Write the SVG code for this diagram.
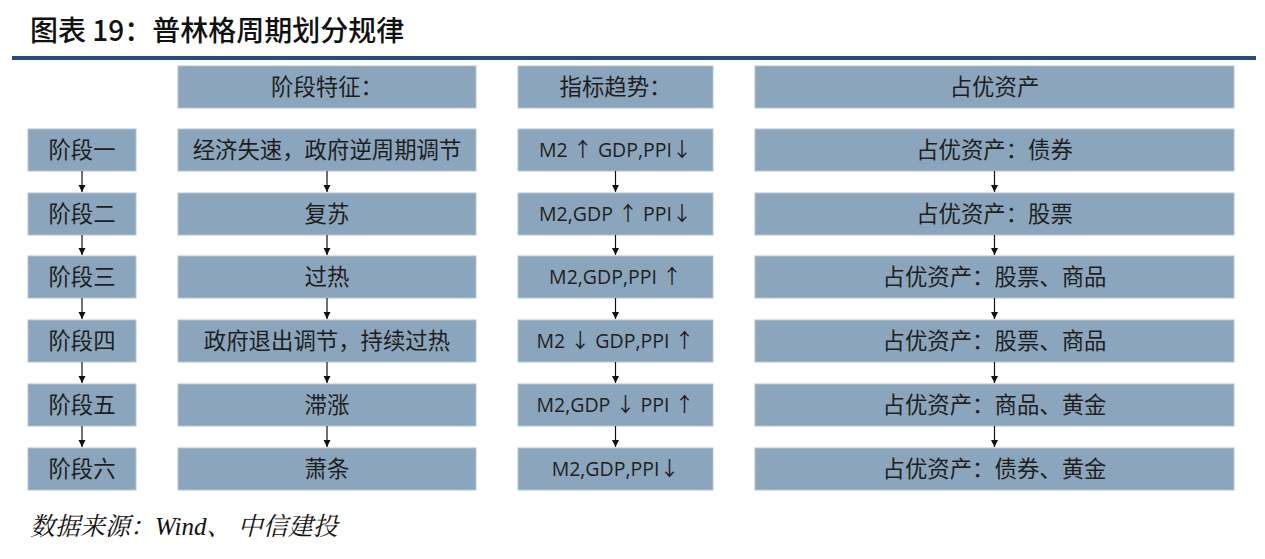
<svg xmlns="http://www.w3.org/2000/svg" width="1265" height="559" viewBox="0 0 1265 559">
<style>
.bg{fill:#ffffff}
.box{fill:#8ba5bd;stroke:#b3c4d4;stroke-width:1}
.t{font-family:"Noto Sans CJK SC","Noto Sans",sans-serif;font-size:22.4px;fill:#1e1e1e;text-anchor:middle}
.m{font-family:"Open Sans","Noto Sans CJK SC",sans-serif;font-size:19.5px;fill:#1e1e1e;text-anchor:middle}
.ar{font-family:"Noto Sans CJK SC",sans-serif;font-size:20px}
.title{font-family:"Noto Sans CJK SC",sans-serif;font-size:28px;font-weight:500;fill:#111111}
.src{font-family:"Liberation Serif","Noto Serif CJK SC","Noto Sans CJK SC",serif;font-size:25px;font-style:italic;fill:#111111}
.conn line{stroke:#111111;stroke-width:1.2}
</style>
<defs>
<marker id="ah" markerWidth="8" markerHeight="8" refX="7" refY="4" orient="auto" markerUnits="userSpaceOnUse">
<path d="M0,0.5 L7,4 L0,7.5 Z" fill="#111111"/>
</marker>
</defs>
<rect class="bg" x="0" y="0" width="1265" height="559"/>
<text class="title" x="30" y="41">图表 19：普林格周期划分规律</text>
<rect x="12" y="56" width="1244" height="4" fill="#264d78"/>

<g id="h2"><rect class="box" x="178" y="66" width="298" height="42"/><text class="t" x="327" y="95">阶段特征：</text></g>
<g id="h3"><rect class="box" x="518" y="66" width="195" height="42"/><text class="t" x="615.5" y="95">指标趋势：</text></g>
<g id="h4"><rect class="box" x="755" y="66" width="479" height="42"/><text class="t" x="994.5" y="95">占优资产</text></g>

<g id="s1"><rect class="box" x="28" y="129" width="108" height="42"/><text class="t" x="82" y="158">阶段一</text></g>
<g id="s2"><rect class="box" x="28" y="193" width="108" height="42"/><text class="t" x="82" y="222">阶段二</text></g>
<g id="s3"><rect class="box" x="28" y="256" width="108" height="42"/><text class="t" x="82" y="285">阶段三</text></g>
<g id="s4"><rect class="box" x="28" y="320" width="108" height="42"/><text class="t" x="82" y="349">阶段四</text></g>
<g id="s5"><rect class="box" x="28" y="384" width="108" height="42"/><text class="t" x="82" y="413">阶段五</text></g>
<g id="s6"><rect class="box" x="28" y="448" width="108" height="42"/><text class="t" x="82" y="477">阶段六</text></g>

<g id="f1"><rect class="box" x="178" y="129" width="298" height="42"/><text class="t" x="327" y="158">经济失速，政府逆周期调节</text></g>
<g id="f2"><rect class="box" x="178" y="193" width="298" height="42"/><text class="t" x="327" y="222">复苏</text></g>
<g id="f3"><rect class="box" x="178" y="256" width="298" height="42"/><text class="t" x="327" y="285">过热</text></g>
<g id="f4"><rect class="box" x="178" y="320" width="298" height="42"/><text class="t" x="327" y="349">政府退出调节，持续过热</text></g>
<g id="f5"><rect class="box" x="178" y="384" width="298" height="42"/><text class="t" x="327" y="413">滞涨</text></g>
<g id="f6"><rect class="box" x="178" y="448" width="298" height="42"/><text class="t" x="327" y="477">萧条</text></g>

<g id="i1"><rect class="box" x="518" y="129" width="195" height="42"/><text class="m" x="615.5" y="157">M2 <tspan class="ar">↑</tspan> GDP,PPI<tspan class="ar">↓</tspan></text></g>
<g id="i2"><rect class="box" x="518" y="193" width="195" height="42"/><text class="m" x="615.5" y="221">M2,GDP <tspan class="ar">↑</tspan> PPI<tspan class="ar">↓</tspan></text></g>
<g id="i3"><rect class="box" x="518" y="256" width="195" height="42"/><text class="m" x="615.5" y="284">M2,GDP,PPI <tspan class="ar">↑</tspan></text></g>
<g id="i4"><rect class="box" x="518" y="320" width="195" height="42"/><text class="m" x="615.5" y="348">M2 <tspan class="ar">↓</tspan> GDP,PPI <tspan class="ar">↑</tspan></text></g>
<g id="i5"><rect class="box" x="518" y="384" width="195" height="42"/><text class="m" x="615.5" y="412">M2,GDP <tspan class="ar">↓</tspan> PPI <tspan class="ar">↑</tspan></text></g>
<g id="i6"><rect class="box" x="518" y="448" width="195" height="42"/><text class="m" x="615.5" y="476">M2,GDP,PPI<tspan class="ar">↓</tspan></text></g>

<g id="a1"><rect class="box" x="755" y="129" width="479" height="42"/><text class="t" x="994.5" y="158">占优资产：债券</text></g>
<g id="a2"><rect class="box" x="755" y="193" width="479" height="42"/><text class="t" x="994.5" y="222">占优资产：股票</text></g>
<g id="a3"><rect class="box" x="755" y="256" width="479" height="42"/><text class="t" x="994.5" y="285">占优资产：股票、商品</text></g>
<g id="a4"><rect class="box" x="755" y="320" width="479" height="42"/><text class="t" x="994.5" y="349">占优资产：股票、商品</text></g>
<g id="a5"><rect class="box" x="755" y="384" width="479" height="42"/><text class="t" x="994.5" y="413">占优资产：商品、黄金</text></g>
<g id="a6"><rect class="box" x="755" y="448" width="479" height="42"/><text class="t" x="994.5" y="477">占优资产：债券、黄金</text></g>

<g id="connectors" class="conn">
<line x1="82" y1="171" x2="82" y2="192" marker-end="url(#ah)"/>
<line x1="82" y1="235" x2="82" y2="255" marker-end="url(#ah)"/>
<line x1="82" y1="298" x2="82" y2="319" marker-end="url(#ah)"/>
<line x1="82" y1="362" x2="82" y2="383" marker-end="url(#ah)"/>
<line x1="82" y1="426" x2="82" y2="447" marker-end="url(#ah)"/>
<line x1="327" y1="171" x2="327" y2="192" marker-end="url(#ah)"/>
<line x1="327" y1="235" x2="327" y2="255" marker-end="url(#ah)"/>
<line x1="327" y1="298" x2="327" y2="319" marker-end="url(#ah)"/>
<line x1="327" y1="362" x2="327" y2="383" marker-end="url(#ah)"/>
<line x1="327" y1="426" x2="327" y2="447" marker-end="url(#ah)"/>
<line x1="615.5" y1="171" x2="615.5" y2="192" marker-end="url(#ah)"/>
<line x1="615.5" y1="235" x2="615.5" y2="255" marker-end="url(#ah)"/>
<line x1="615.5" y1="298" x2="615.5" y2="319" marker-end="url(#ah)"/>
<line x1="615.5" y1="362" x2="615.5" y2="383" marker-end="url(#ah)"/>
<line x1="615.5" y1="426" x2="615.5" y2="447" marker-end="url(#ah)"/>
<line x1="994.5" y1="171" x2="994.5" y2="192" marker-end="url(#ah)"/>
<line x1="994.5" y1="235" x2="994.5" y2="255" marker-end="url(#ah)"/>
<line x1="994.5" y1="298" x2="994.5" y2="319" marker-end="url(#ah)"/>
<line x1="994.5" y1="362" x2="994.5" y2="383" marker-end="url(#ah)"/>
<line x1="994.5" y1="426" x2="994.5" y2="447" marker-end="url(#ah)"/>
</g>

<text class="src" x="30" y="535">数据来源：Wind、 中信建投</text>
</svg>
